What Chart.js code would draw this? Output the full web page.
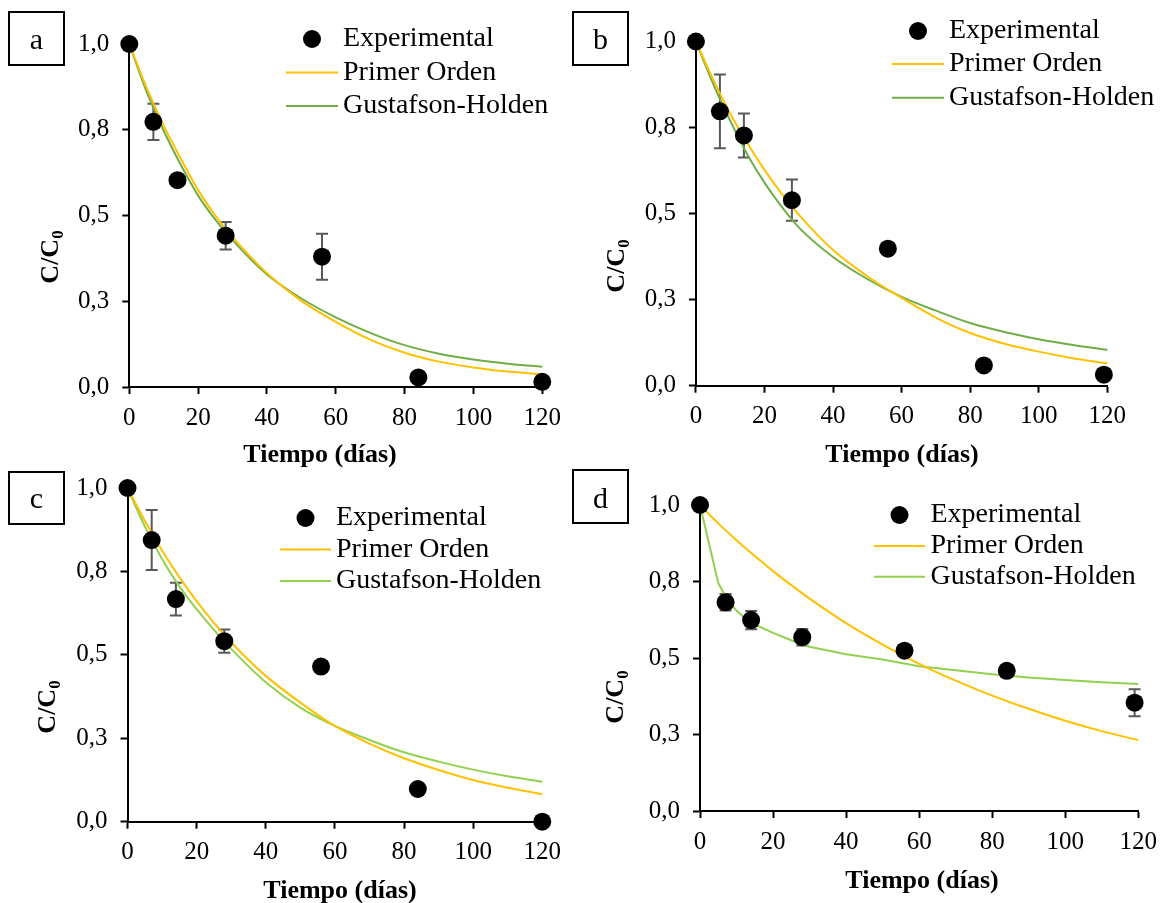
<!DOCTYPE html>
<html lang="es">
<head>
<meta charset="utf-8">
<title>C/C0 frente al tiempo</title>
<script src="https://cdn.jsdelivr.net/npm/chart.js@4.4.1/dist/chart.umd.min.js"></script>
<style>
  html, body { margin: 0; padding: 0; background: #fff; }
  #wrap { position: relative; width: 1166px; height: 903px; overflow: hidden; }
  #wrap canvas { position: absolute; }
</style>
</head>
<body>
<div id="wrap">
  <canvas id="panelC" width="570" height="443" style="left:0;top:460px"></canvas>
  <canvas id="panelD" width="596" height="443" style="left:570px;top:460px"></canvas>
  <canvas id="panelA" width="570" height="470" style="left:0;top:0"></canvas>
  <canvas id="panelB" width="596" height="470" style="left:570px;top:0"></canvas>
</div>
<script>
// ---- datos ----
const xTitle = 'Tiempo (días)';
const yTitleMain = 'C/C';
const yTitleSub = '0';
const seriesNames = ['Experimental', 'Primer Orden', 'Gustafson-Holden'];
const xTicks = [0, 20, 40, 60, 80, 100, 120];
const yTicks = [0, 0.25, 0.5, 0.75, 1];

// puntos experimentales (dias, C/C0, desviacion)
const tExpA = [0, 7, 14, 28, 56, 84, 120];
const expA = [1.0, 0.773, 0.603, 0.441, 0.380, 0.028, 0.015];
const errA = [0, 0.053, 0, 0.040, 0.067, 0, 0];

const tExpB = [0, 7, 14, 28, 56, 84, 119];
const expB = [1.0, 0.797, 0.727, 0.539, 0.398, 0.059, 0.032];
const errB = [0, 0.107, 0.064, 0.060, 0.015, 0, 0];

const tExpC = [0, 7, 14, 28, 56, 84, 120];
const expC = [1.0, 0.844, 0.667, 0.541, 0.465, 0.098, 0.0];
const errC = [0, 0.090, 0.049, 0.035, 0, 0, 0];

const tExpD = [0, 7, 14, 28, 56, 84, 119];
const expD = [1.0, 0.682, 0.624, 0.568, 0.524, 0.458, 0.354];
const errD = [0, 0.027, 0.030, 0.027, 0.012, 0.010, 0.044];

// curvas de ajuste
const tFit = [0, 5, 10, 15, 20, 25, 30, 40, 50, 60, 70, 80, 90, 100, 110, 120];
const primerA = [1, 0.873, 0.762, 0.665, 0.574, 0.500, 0.437, 0.332, 0.251, 0.190, 0.138, 0.100, 0.074, 0.057, 0.045, 0.037];
const gustA   = [1, 0.862, 0.747, 0.647, 0.558, 0.488, 0.428, 0.328, 0.258, 0.203, 0.158, 0.122, 0.097, 0.080, 0.068, 0.059];
const primerB = [1, 0.890, 0.791, 0.705, 0.627, 0.558, 0.497, 0.394, 0.318, 0.255, 0.198, 0.153, 0.122, 0.099, 0.080, 0.065];
const gustB   = [1, 0.878, 0.770, 0.672, 0.590, 0.520, 0.460, 0.374, 0.310, 0.258, 0.218, 0.182, 0.156, 0.135, 0.118, 0.104];
const primerC = [1, 0.902, 0.813, 0.733, 0.661, 0.596, 0.537, 0.437, 0.357, 0.287, 0.234, 0.190, 0.155, 0.125, 0.102, 0.083];
const gustC   = [1, 0.885, 0.787, 0.705, 0.637, 0.575, 0.518, 0.418, 0.342, 0.287, 0.245, 0.208, 0.180, 0.156, 0.136, 0.120];
const primerD = [1, 0.940, 0.885, 0.833, 0.784, 0.738, 0.694, 0.614, 0.544, 0.481, 0.426, 0.377, 0.334, 0.295, 0.261, 0.232];
const tFitGD  = [0, 5, 7.5, 10, 12.5, 15, 20, 25, 30, 40, 50, 60, 70, 80, 90, 100, 110, 120];
const gustD   = [1, 0.745, 0.690, 0.655, 0.628, 0.610, 0.582, 0.558, 0.537, 0.512, 0.495, 0.473, 0.460, 0.447, 0.436, 0.428, 0.421, 0.415];

Chart.defaults.font.family = "'Liberation Serif', 'Times New Roman', serif";
Chart.defaults.color = '#000';
Chart.defaults.animation = false;

function pts(xs, ys) {
  return xs.map(function(x, i) { return { x: x, y: ys[i] }; });
}

// barras de error, recuadro con letra, leyenda y titulos
const decoPlugin = {
  id: 'deco',
  beforeDatasetsDraw: function(chart) {
    const ctx = chart.ctx, xs = chart.scales.x, ys = chart.scales.y;
    const ds = chart.data.datasets[0];
    ctx.save();
    ctx.strokeStyle = '#595959';
    ctx.lineWidth = 2;
    ds.data.forEach(function(p, i) {
      const e = ds.errorBars[i];
      if (!e) return;
      const x = xs.getPixelForValue(p.x);
      const y1 = ys.getPixelForValue(p.y + e);
      const y2 = ys.getPixelForValue(p.y - e);
      ctx.beginPath();
      ctx.moveTo(x, y1); ctx.lineTo(x, y2);
      ctx.moveTo(x - 6, y1); ctx.lineTo(x + 6, y1);
      ctx.moveTo(x - 6, y2); ctx.lineTo(x + 6, y2);
      ctx.stroke();
    });
    ctx.restore();
  },
  afterDraw: function(chart, args, o) {
    const ctx = chart.ctx;
    ctx.save();
    ctx.translate(-o.ox, -o.oy);

    // recuadro con la letra del panel
    const b = o.box;
    ctx.strokeStyle = '#000';
    ctx.lineWidth = 2;
    ctx.strokeRect(b.x, b.y, b.w, b.h);
    ctx.fillStyle = '#000';
    ctx.font = '30px "Liberation Serif"';
    ctx.textAlign = 'center';
    ctx.textBaseline = 'alphabetic';
    ctx.fillText(o.letter, b.x + b.w / 2, b.base);

    // leyenda
    const L = o.legend;
    const ds = chart.data.datasets;
    ctx.font = '28px "Liberation Serif"';
    ctx.textAlign = 'left';
    ctx.textBaseline = 'middle';
    ds.forEach(function(d, i) {
      const y = L.rows[i];
      if (i === 0) {
        ctx.beginPath();
        ctx.arc((L.x0 + L.x1) / 2, y, 9, 0, Math.PI * 2);
        ctx.fillStyle = d.backgroundColor;
        ctx.fill();
      } else {
        ctx.beginPath();
        ctx.moveTo(L.x0, y);
        ctx.lineTo(L.x1, y);
        ctx.strokeStyle = d.borderColor;
        ctx.lineWidth = 2;
        ctx.stroke();
      }
      ctx.fillStyle = '#000';
      ctx.fillText(d.label, L.tx, y);
    });

    // titulo eje x
    ctx.font = 'bold 26px "Liberation Serif"';
    ctx.textAlign = 'center';
    ctx.textBaseline = 'alphabetic';
    ctx.fillText(xTitle, o.xTitle.x, o.xTitle.y);

    // titulo eje y con subindice
    ctx.translate(o.yTitle.x, o.yTitle.y);
    ctx.rotate(-Math.PI / 2);
    const big = 'bold 26px "Liberation Serif"';
    const small = 'bold 17px "Liberation Serif"';
    ctx.font = big;
    const w1 = ctx.measureText(yTitleMain).width;
    ctx.font = small;
    const w2 = ctx.measureText(yTitleSub).width;
    ctx.textAlign = 'left';
    ctx.font = big;
    ctx.fillText(yTitleMain, -(w1 + w2) / 2, 0);
    ctx.font = small;
    ctx.fillText(yTitleSub, -(w1 + w2) / 2 + w1, 5);
    ctx.restore();
  }
};

function makePanel(id, ox, oy, area, exp, primer, gust, greenColor, deco) {
  const canvas = document.getElementById(id);
  const w = canvas.width, h = canvas.height;
  const yW = area.left - ox;
  const xH = oy + h - area.bottom;
  deco.ox = ox;
  deco.oy = oy;

  new Chart(canvas, {
    type: 'scatter',
    data: {
      datasets: [
        {
          label: seriesNames[0],
          data: pts(exp.t, exp.v),
          errorBars: exp.e,
          backgroundColor: '#000',
          borderColor: '#000',
          pointRadius: 9,
          pointBorderWidth: 0,
          showLine: false,
          clip: false
        },
        {
          label: seriesNames[1],
          data: pts(primer.t, primer.v),
          showLine: true,
          borderColor: '#FFC000',
          backgroundColor: '#FFC000',
          borderWidth: 2,
          pointRadius: 0,
          cubicInterpolationMode: 'monotone',
          clip: false
        },
        {
          label: seriesNames[2],
          data: pts(gust.t, gust.v),
          showLine: true,
          borderColor: greenColor,
          backgroundColor: greenColor,
          borderWidth: 2,
          pointRadius: 0,
          cubicInterpolationMode: gust.mode,
          tension: 0,
          clip: false
        }
      ]
    },
    options: {
      responsive: false,
      animation: false,
      layout: {
        padding: { left: 0, top: area.top - oy, right: ox + w - area.right, bottom: 0 }
      },
      plugins: {
        legend: { display: false },
        tooltip: { enabled: false },
        deco: deco
      },
      scales: {
        x: {
          type: 'linear',
          min: xTicks[0],
          max: xTicks[xTicks.length - 1],
          afterFit: function(s) { s.height = xH; },
          afterBuildTicks: function(s) { s.ticks = xTicks.map(function(v) { return { value: v }; }); },
          ticks: { color: '#000', font: { size: 25 }, padding: 9, maxRotation: 0, autoSkip: false },
          grid: { drawOnChartArea: false, drawTicks: true, tickLength: 7, tickColor: '#000', tickWidth: 2 },
          border: { display: true, color: '#000', width: 2 }
        },
        y: {
          type: 'linear',
          min: yTicks[0],
          max: yTicks[yTicks.length - 1],
          afterFit: function(s) { s.width = yW; },
          afterBuildTicks: function(s) { s.ticks = yTicks.map(function(v) { return { value: v }; }); },
          ticks: {
            color: '#000',
            font: { size: 25 },
            padding: 13,
            callback: function(v) { return v.toFixed(1).replace('.', ','); }
          },
          grid: { drawOnChartArea: false, drawTicks: true, tickLength: 7, tickColor: '#000', tickWidth: 2 },
          border: { display: true, color: '#000', width: 2 }
        }
      }
    },
    plugins: [decoPlugin]
  });
}

makePanel('panelA', 0, 0,
  { left: 129.3, right: 549.3, top: 44, bottom: 387 },
  { t: tExpA, v: expA, e: errA },
  { t: tFit, v: primerA },
  { t: tFit, v: gustA, mode: 'monotone' },
  '#70AD47',
  {
    letter: 'a',
    box: { x: 9, y: 12, w: 55, h: 53, base: 49 },
    legend: { x0: 286, x1: 338, tx: 343, rows: [39, 72.5, 106] },
    xTitle: { x: 320, y: 462 },
    yTitle: { x: 57.5, y: 257 }
  });

makePanel('panelB', 570, 0,
  { left: 695.9, right: 1107.3, top: 41.5, bottom: 385.7 },
  { t: tExpB, v: expB, e: errB },
  { t: tFit, v: primerB },
  { t: tFit, v: gustB, mode: 'monotone' },
  '#70AD47',
  {
    letter: 'b',
    box: { x: 573, y: 12, w: 55, h: 53, base: 49 },
    legend: { x0: 892, x1: 944, tx: 949, rows: [31, 64, 97.7] },
    xTitle: { x: 902, y: 462 },
    yTitle: { x: 623.5, y: 266 }
  });

makePanel('panelC', 0, 460,
  { left: 127.5, right: 551, top: 487, bottom: 821.7 },
  { t: tExpC, v: expC, e: errC },
  { t: tFit, v: primerC },
  { t: tFit, v: gustC, mode: 'monotone' },
  '#92D050',
  {
    letter: 'c',
    box: { x: 9, y: 472, w: 55, h: 52, base: 508 },
    legend: { x0: 280, x1: 331, tx: 336, rows: [518, 549.5, 581] },
    xTitle: { x: 340, y: 898 },
    yTitle: { x: 55, y: 707 }
  });

makePanel('panelD', 570, 460,
  { left: 700, right: 1143.6, top: 505, bottom: 811 },
  { t: tExpD, v: expD, e: errD },
  { t: tFit, v: primerD },
  { t: tFitGD, v: gustD, mode: 'default' },
  '#92D050',
  {
    letter: 'd',
    box: { x: 573, y: 470, w: 55, h: 53, base: 508 },
    legend: { x0: 874, x1: 925, tx: 930.5, rows: [515, 546, 576.7] },
    xTitle: { x: 922, y: 888 },
    yTitle: { x: 623, y: 697 }
  });
</script>
</body>
</html>
